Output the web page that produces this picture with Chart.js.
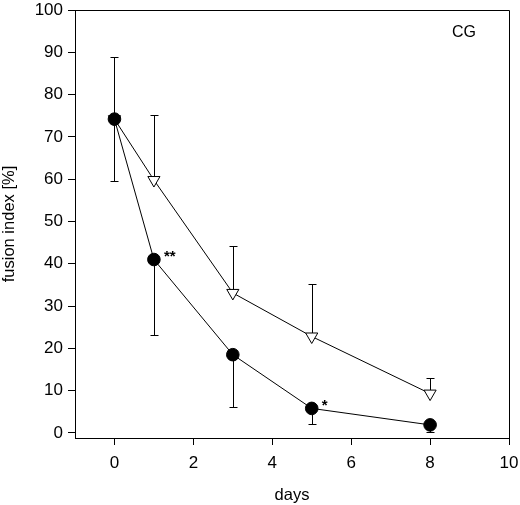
<!DOCTYPE html>
<html>
<head>
<meta charset="utf-8">
<script src="https://cdn.jsdelivr.net/npm/chart.js@4"></script>
<style>
html,body{margin:0;padding:0;background:#fff;}
#wrap{width:520px;height:505px;}
</style>
</head>
<body>
<div id="wrap"><canvas id="c" width="520" height="505"></canvas></div>
<script>
const days = [0, 1, 3, 5, 8];
const filledValues = [74.2, 41.0, 18.5, 5.8, 1.9];
const filledLowerErr = [59.6, 23.1, 6.1, 2.2, 0.2];
const openValues = [74.2, 59.8, 33.1, 22.8, 9.3];
const openUpperErr = [88.9, 75.2, 44.1, 35.1, 13.1];
const filledMarks = ['', '**', '', '*', ''];
const xTicks = [0, 2, 4, 6, 8, 10];
const yTicks = [0, 10, 20, 30, 40, 50, 60, 70, 80, 90, 100];
const panelLabel = 'CG';

const FONT = '"Liberation Sans", Arial, Helvetica, sans-serif';

const extras = {
  id: 'extras',
  beforeDatasetsDraw(chart) {
    const ctx = chart.ctx;
    const xs = chart.scales.x, ys = chart.scales.y;
    ctx.save();
    ctx.strokeStyle = '#000';
    ctx.lineWidth = 1;
    const cap = 4;
    const bar = (xv, y0, y1) => {
      const px = Math.round(xs.getPixelForValue(xv)) + 0.5;
      const p0 = ys.getPixelForValue(y0);
      const p1 = Math.round(ys.getPixelForValue(y1)) + 0.5;
      ctx.beginPath();
      ctx.moveTo(px, p0); ctx.lineTo(px, p1);
      ctx.moveTo(px - cap, p1); ctx.lineTo(px + cap, p1);
      ctx.stroke();
    };
    days.forEach((d, i) => {
      bar(d, openValues[i], openUpperErr[i]);
      bar(d, filledValues[i], filledLowerErr[i]);
    });
    ctx.restore();
  },
  afterDraw(chart) {
    const ctx = chart.ctx;
    const a = chart.chartArea;
    const xs = chart.scales.x, ys = chart.scales.y;
    ctx.save();
    ctx.strokeStyle = '#000';
    ctx.lineWidth = 1;
    ctx.beginPath();
    ctx.moveTo(a.left, a.top + 0.5); ctx.lineTo(a.right + 0.5, a.top + 0.5);
    ctx.lineTo(a.right + 0.5, a.bottom);
    ctx.stroke();
    ctx.fillStyle = '#000';
    ctx.font = 'bold 15px ' + FONT;
    ctx.textAlign = 'left';
    ctx.textBaseline = 'middle';
    days.forEach((d, i) => {
      if (!filledMarks[i]) return;
      const px = xs.getPixelForValue(d);
      const py = ys.getPixelForValue(filledValues[i]);
      ctx.fillText(filledMarks[i], px + 10, py - 3);
    });
    ctx.font = '16px ' + FONT;
    ctx.textAlign = 'center';
    ctx.fillText(panelLabel, a.right - 45, a.top + 23);
    ctx.restore();
  }
};

const chart = new Chart(document.getElementById('c'), {
  type: 'line',
  data: {
    datasets: [
      {
        label: 'filled',
        data: days.map((d, i) => ({x: d, y: filledValues[i]})),
        borderColor: '#000',
        borderWidth: 1,
        backgroundColor: '#000',
        pointBackgroundColor: '#000',
        pointBorderColor: '#000',
        pointRadius: 6.3,
        pointHoverRadius: 6.3,
        pointStyle: 'circle',
        tension: 0,
        order: 0
      },
      {
        label: 'open',
        data: days.map((d, i) => ({x: d, y: openValues[i]})),
        borderColor: '#000',
        borderWidth: 1,
        pointBackgroundColor: '#fff',
        pointBorderColor: '#000',
        pointBorderWidth: 1,
        pointRadius: 7,
        pointHoverRadius: 7,
        pointStyle: 'triangle',
        pointRotation: 180,
        tension: 0,
        order: 1
      }
    ]
  },
  options: {
    responsive: false,
    animation: false,
    devicePixelRatio: 1,
    layout: {padding: {top: 10, right: 11, left: 0, bottom: 0}},
    plugins: {legend: {display: false}, tooltip: {enabled: false}},
    scales: {
      x: {
        type: 'linear',
        min: -1, max: 10,
        afterBuildTicks(s) { s.ticks = xTicks.map(v => ({value: v})); },
        afterFit(s) { s.height = 67; s.paddingLeft = 0; s.paddingRight = 0; },
        ticks: {color: '#000', font: {family: FONT, size: 17}, padding: 8, maxRotation: 0},
        grid: {drawOnChartArea: false, drawTicks: true, tickLength: 7, color: '#000'},
        border: {color: '#000', width: 1},
        title: {display: true, text: 'days', color: '#000', font: {family: FONT, size: 16.5}, padding: {top: 4, bottom: 0}}
      },
      y: {
        type: 'linear',
        min: -1.2, max: 100,
        afterBuildTicks(s) { s.ticks = yTicks.map(v => ({value: v})); },
        afterFit(s) { s.width = 75; s.paddingTop = 0; s.paddingBottom = 0; },
        ticks: {color: '#000', font: {family: FONT, size: 17}, padding: 5},
        grid: {drawOnChartArea: false, drawTicks: true, tickLength: 7, color: '#000'},
        border: {color: '#000', width: 1},
        title: {display: true, text: 'fusion index [%]', color: '#000', font: {family: FONT, size: 16.5}, padding: {top: 0, bottom: 4}}
      }
    }
  },
  plugins: [extras]
});
</script>
</body>
</html>
